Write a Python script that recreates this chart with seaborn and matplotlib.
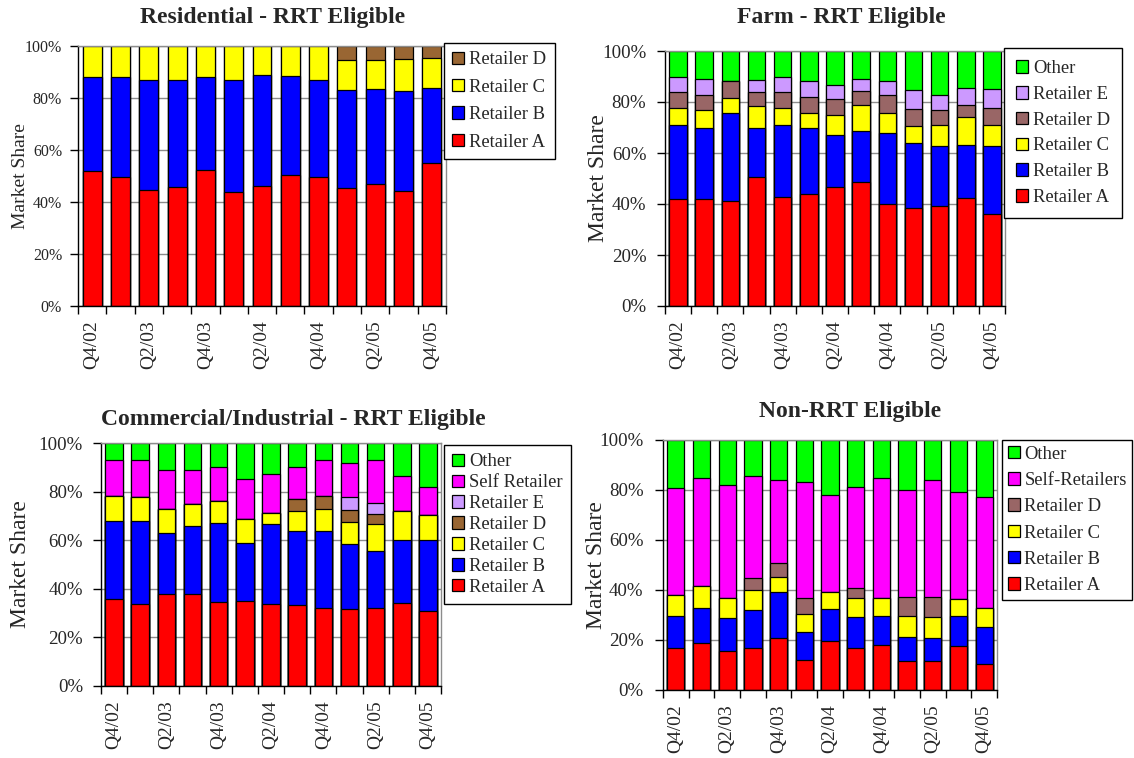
import numpy as np
import matplotlib
matplotlib.use("Agg")
import matplotlib.pyplot as plt
from matplotlib.patches import Patch
import seaborn as sns

# Quarterly market share data (percent of each segment)
quarters = ["Q4/02", "Q1/03", "Q2/03", "Q3/03", "Q4/03", "Q1/04", "Q2/04",
            "Q3/04", "Q4/04", "Q1/05", "Q2/05", "Q3/05", "Q4/05"]
tick_labels = quarters[::2]

# Residential - RRT eligible
res_a = [51.8, 49.7, 44.7, 45.8, 52.3, 43.7, 46.0, 50.3, 49.7, 45.4, 46.9, 44.2, 54.9]
res_b = [36.1, 38.3, 42.2, 41.1, 35.7, 43.2, 42.7, 38.2, 37.2, 37.5, 36.4, 38.4, 29.1]
res_c = [12.1, 12.0, 13.1, 13.1, 12.0, 13.1, 11.3, 11.5, 13.1, 11.6, 11.2, 12.3, 11.3]
res_d = [0, 0, 0, 0, 0, 0, 0, 0, 0, 5.5, 5.5, 5.1, 4.7]

# Farm - RRT eligible
farm_a = [41.8, 41.8, 41.0, 50.5, 42.9, 43.9, 46.7, 48.5, 39.9, 38.4, 39.1, 42.2, 35.9]
farm_b = [29.0, 28.1, 34.8, 19.3, 27.9, 26.0, 20.2, 20.0, 28.1, 25.5, 23.8, 20.9, 27.0]
farm_c = [7.0, 6.8, 5.9, 8.8, 7.0, 5.9, 8.1, 10.2, 7.8, 6.6, 7.9, 10.9, 8.1]
farm_d = [6.0, 6.2, 6.4, 5.2, 6.0, 6.0, 6.2, 5.6, 7.1, 6.8, 5.9, 5.0, 6.5]
farm_e = [6.0, 6.1, 0.0, 5.0, 6.0, 6.3, 5.5, 4.6, 5.2, 7.3, 6.0, 6.4, 7.6]
farm_other = [10.2, 11.0, 11.9, 11.2, 10.2, 11.9, 13.3, 11.1, 11.9, 15.4, 17.3, 14.6, 14.9]

# Commercial/Industrial - RRT eligible
ci_a = [35.6, 33.9, 37.8, 37.8, 34.5, 34.8, 33.8, 33.4, 31.9, 31.7, 32.3, 34.1, 30.9]
ci_b = [32.5, 33.8, 25.1, 28.1, 32.7, 24.1, 33.0, 30.3, 31.8, 26.8, 23.2, 25.9, 29.1]
ci_c = [9.9, 10.0, 10.0, 9.0, 8.9, 9.9, 4.4, 8.4, 9.1, 8.8, 11.1, 12.0, 10.3]
ci_d = [0, 0, 0, 0, 0, 0, 0, 4.7, 5.2, 5.2, 4.0, 0, 0]
ci_e = [0, 0, 0, 0, 0, 0, 0, 0, 0, 5.2, 4.9, 0, 0]
ci_self = [15.1, 15.4, 16.1, 14.1, 13.9, 16.2, 15.9, 13.3, 15.1, 13.9, 17.6, 14.4, 11.4]
ci_other = [6.9, 6.9, 11.0, 11.0, 10.0, 15.0, 12.9, 9.9, 6.9, 8.4, 6.9, 13.6, 18.3]

# Non-RRT eligible
non_a = [16.9, 18.9, 15.8, 16.9, 21.0, 12.1, 19.6, 16.9, 18.0, 11.6, 11.6, 17.6, 10.5]
non_b = [12.9, 14.1, 13.1, 15.2, 18.4, 11.3, 12.8, 12.5, 11.8, 9.7, 9.3, 12.0, 14.8]
non_c = [8.1, 8.8, 7.9, 7.8, 6.0, 7.0, 6.9, 7.4, 7.1, 8.3, 8.4, 7.0, 7.7]
non_d = [0, 0, 0, 5.1, 5.3, 6.5, 0, 4.1, 0, 7.6, 8.0, 0, 0]
non_self = [43.1, 43.2, 45.4, 40.8, 33.2, 46.5, 38.7, 40.2, 48.1, 42.7, 46.9, 42.6, 44.2]
non_other = [19.0, 15.0, 17.8, 14.2, 16.1, 16.6, 22.0, 18.9, 15.0, 20.1, 15.8, 20.8, 22.8]

RED, BLUE, YELLOW = "#FF0000", "#0000FF", "#FFFF00"
BROWN, MAUVE, LILAC = "#996633", "#996666", "#CC99FF"
MAGENTA, GREEN = "#FF00FF", "#00FF00"

sns.set_theme(style="white")
plt.rcParams["font.family"] = ["Liberation Serif", "DejaVu Serif"]

W, H = 1134, 758
fig = plt.figure(figsize=(W / 100, H / 100), dpi=100)


def px_axes(left, top, right, bottom):
    return fig.add_axes([left / W, 1 - bottom / H, (right - left) / W, (bottom - top) / H])


def stacked_panel(ax, layers, title, title_xy, legend_xy, ytick_size, ytick_pad,
                  ylabel_size, ylabel_right, label_spacing, border_pad):
    values = np.array([v for _, v, _ in layers], dtype=float)
    tops = np.cumsum(values, axis=0)
    handles = []
    # draw cumulative totals from the top layer down; each lower layer covers the upper one
    for (label, _, color), top in reversed(list(zip(layers, tops))):
        sns.barplot(x=quarters, y=top, order=quarters, color=color, saturation=1,
                    width=0.67, edgecolor="black", linewidth=0.9, errorbar=None, ax=ax)
        handles.append(Patch(facecolor=color, edgecolor="black", linewidth=0.9, label=label))

    ax.set_ylim(0, 100)
    ax.set_xlim(-0.5, len(quarters) - 0.5)
    ax.set_yticks(range(0, 101, 20))
    ax.set_yticklabels([f"{v}%" for v in range(0, 101, 20)])
    ax.yaxis.grid(True, color="#8c8c8c", linewidth=1)
    ax.xaxis.grid(False)
    ax.set_axisbelow(True)

    # tick marks between categories, labels under every other bar
    ax.set_xticks(np.arange(-0.5, len(quarters), 1))
    ax.set_xticklabels([])
    ax.set_xticks(range(0, len(quarters), 2), minor=True)
    ax.set_xticklabels(tick_labels, minor=True)
    ax.tick_params(axis="x", which="major", direction="out", length=6, width=1,
                   color="black", bottom=True)
    ax.tick_params(axis="x", which="minor", length=0, pad=10.5, bottom=True,
                   labelsize=14, labelrotation=90)
    ax.tick_params(axis="y", direction="out", length=6, width=1, color="black",
                   left=True, pad=ytick_pad, labelsize=ytick_size)
    ax.set_xlabel("")
    ax.set_ylabel("Market Share", fontsize=ylabel_size)
    pos = ax.get_position()
    ax.yaxis.set_label_coords((ylabel_right / W - pos.x0) / pos.width, 0.5)

    for side in ("left", "bottom"):
        ax.spines[side].set_color("black")
        ax.spines[side].set_linewidth(1)
    for side in ("top", "right"):
        ax.spines[side].set_color("#8c8c8c")
        ax.spines[side].set_linewidth(1)

    leg = ax.legend(handles=handles, loc="upper left",
                    bbox_to_anchor=(legend_xy[0] / W, 1 - legend_xy[1] / H),
                    bbox_transform=fig.transFigure, borderaxespad=0, fontsize=13.4,
                    frameon=True, fancybox=False, framealpha=1, edgecolor="black",
                    handlelength=0.65, handleheight=0.65, handletextpad=0.25,
                    labelspacing=label_spacing, borderpad=border_pad)
    leg.get_frame().set_linewidth(1)

    fig.text(title_xy[0] / W, 1 - title_xy[1] / H, title, ha="center", va="center",
             fontsize=17, fontweight="bold")


ax1 = px_axes(78, 46, 446, 306)
stacked_panel(ax1, [("Retailer A", res_a, RED), ("Retailer B", res_b, BLUE),
                    ("Retailer C", res_c, YELLOW), ("Retailer D", res_d, BROWN)],
              "Residential - RRT Eligible", (273, 17), (444, 43), 11.5, 5.5, 14, 29,
              0.56, 0.45)

ax2 = px_axes(665, 51, 1005, 306)
stacked_panel(ax2, [("Retailer A", farm_a, RED), ("Retailer B", farm_b, BLUE),
                    ("Retailer C", farm_c, YELLOW), ("Retailer D", farm_d, MAUVE),
                    ("Retailer E", farm_e, LILAC), ("Other", farm_other, GREEN)],
              "Farm - RRT Eligible", (841, 18), (1004, 48), 13.6, 7.5, 17, 609,
              0.47, 0.65)

ax3 = px_axes(101, 443, 441, 686)
stacked_panel(ax3, [("Retailer A", ci_a, RED), ("Retailer B", ci_b, BLUE),
                    ("Retailer C", ci_c, YELLOW), ("Retailer D", ci_d, BROWN),
                    ("Retailer E", ci_e, LILAC), ("Self Retailer", ci_self, MAGENTA),
                    ("Other", ci_other, GREEN)],
              "Commercial/Industrial - RRT Eligible", (293, 419), (444, 445), 13.6, 7, 17, 31,
              0.21, 0.45)

ax4 = px_axes(663, 440, 997, 690)
stacked_panel(ax4, [("Retailer A", non_a, RED), ("Retailer B", non_b, BLUE),
                    ("Retailer C", non_c, YELLOW), ("Retailer D", non_d, MAUVE),
                    ("Self-Retailers", non_self, MAGENTA), ("Other", non_other, GREEN)],
              "Non-RRT Eligible", (850, 411), (1002, 440), 13.6, 8, 17, 607,
              0.5, 0.3)

fig.savefig("out.png", dpi=100, facecolor="white")
